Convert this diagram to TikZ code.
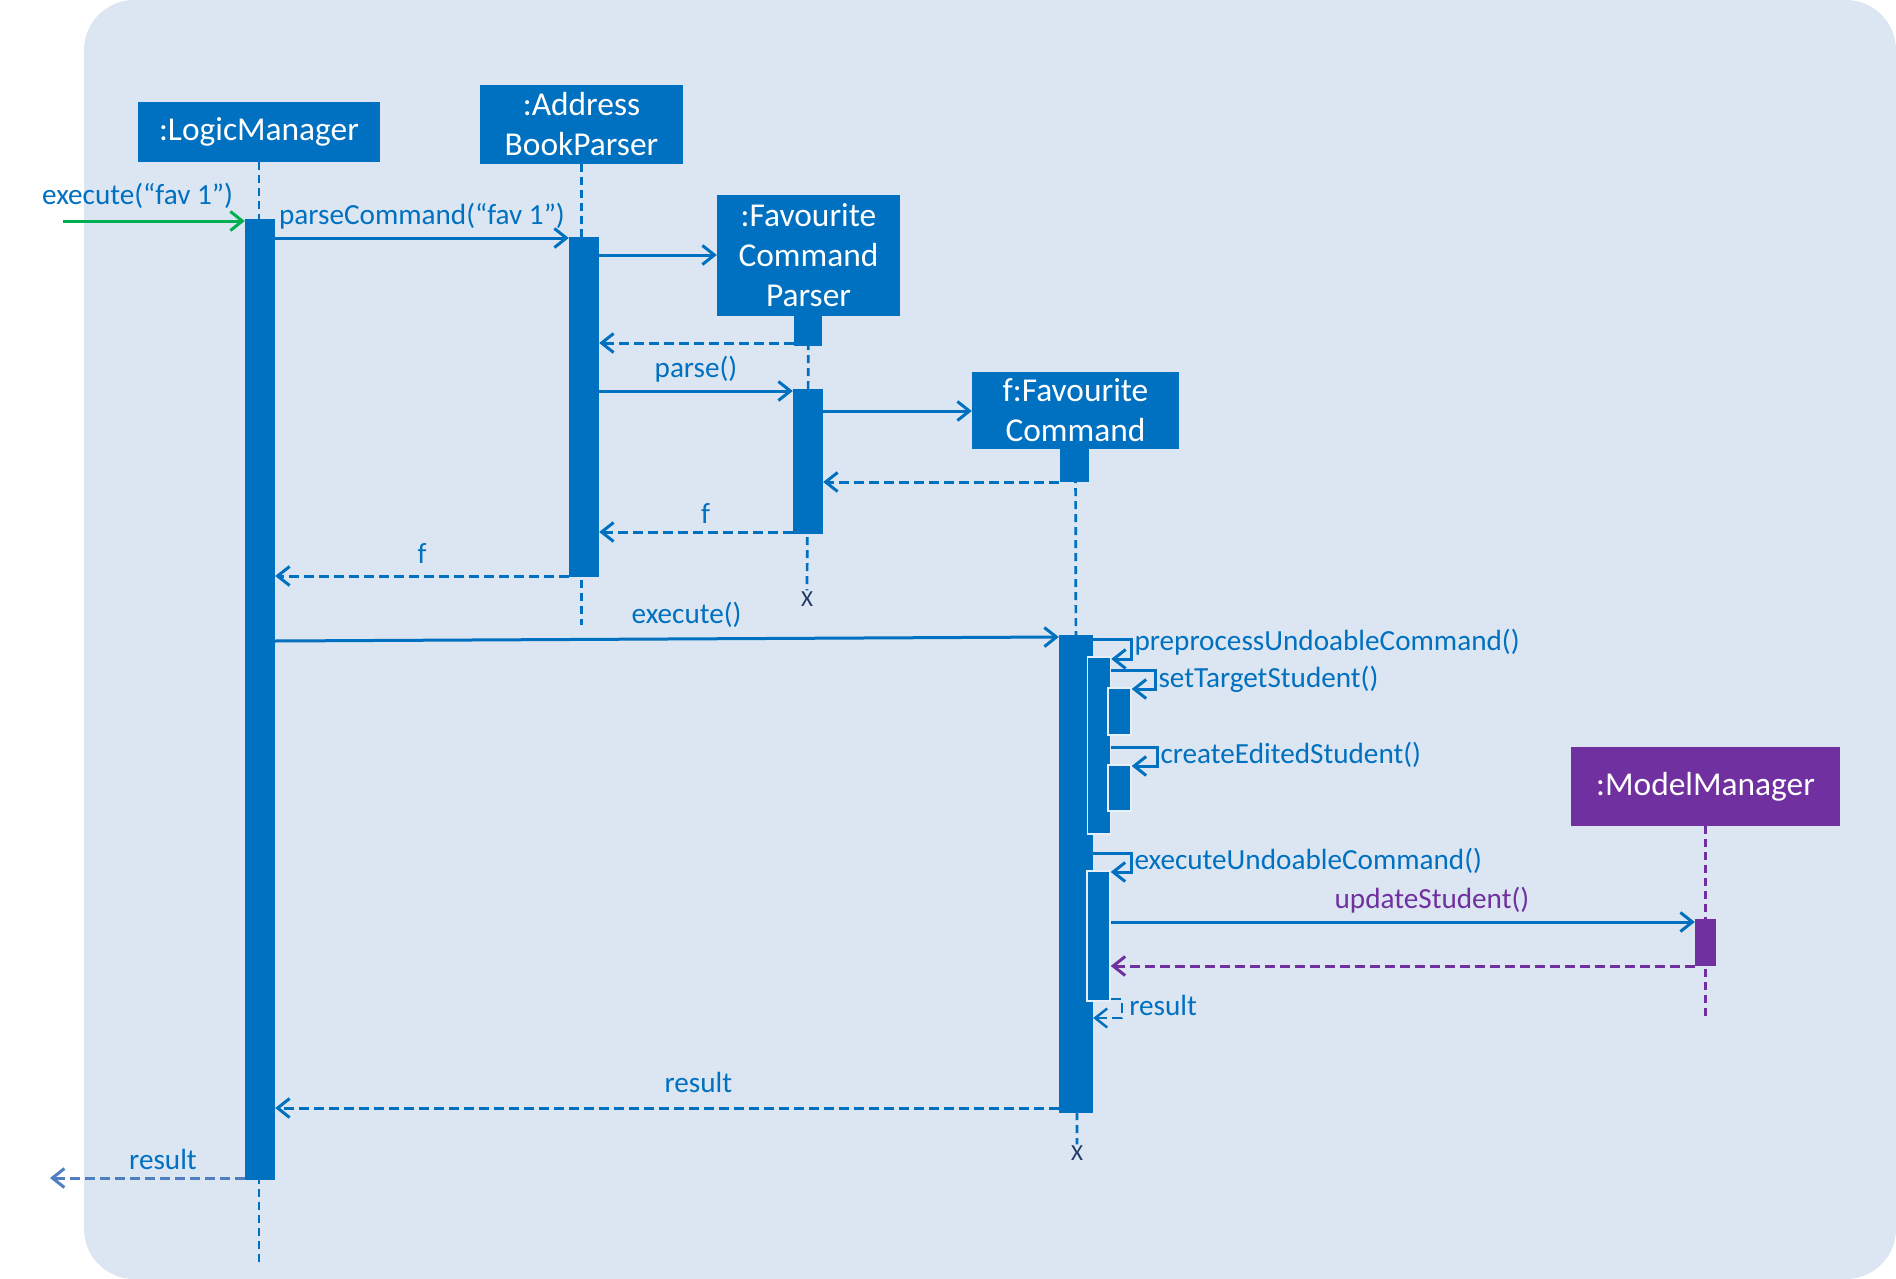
\documentclass[tikz,border=0pt]{standalone}
\usepackage{fontspec}
\setmainfont{Carlito}
\usetikzlibrary{arrows.meta,positioning}

\definecolor{seqblue}{HTML}{0070C0}
\definecolor{seqblue2}{HTML}{4F7FC0}
\definecolor{seqpurple}{HTML}{7030A0}
\definecolor{seqgreen}{HTML}{00B050}
\definecolor{seqnavy}{HTML}{1F3864}
\definecolor{bgblue}{HTML}{DCE6F2}
\definecolor{edgeblue}{HTML}{E6EEF8}

\newcommand{\lblfont}{\fontsize{29.2}{34}\selectfont}
\newcommand{\boxfont}{\fontsize{33.4}{40}\selectfont}

\begin{document}
\begin{tikzpicture}[x=1pt,y=-1pt,
  obj/.style={fill=seqblue, text=white, font=\boxfont, align=center, inner sep=0pt},
  act/.style={fill=seqblue, inner sep=0pt, minimum width=30pt},
  nest/.style={act, draw=edgeblue, line width=1.5pt, minimum width=23pt},
  life/.style={seqblue, line width=2.7pt, dash pattern=on 8pt off 5pt},
  msg/.style={seqblue, line width=3pt, -{Straight Barb[length=12pt,width=19pt]}},
  ret/.style={msg, dash pattern=on 10pt off 5pt},
  lbl/.style={font=\lblfont, text=seqblue, inner sep=3pt},
  xmark/.style={font=\fontsize{23}{26}\selectfont, text=seqnavy, inner sep=1pt}]

\useasboundingbox (0,0) rectangle (1896,1279);

% ==== Background ====
\fill[bgblue, rounded corners=50pt] (84,0) rectangle (1896,1279);

% ==== Objects ====
\node[obj, minimum width=242pt, minimum height=60pt] (lm) at (259,132) {:LogicManager};
\node[obj, minimum width=203pt, minimum height=79pt] (abp) at (581.5,124.5) {:Address\\BookParser};
\node[obj, minimum width=183pt, minimum height=121pt] (fcp) at (808.5,255.5) {:Favourite\\Command\\Parser};
\node[obj, minimum width=207pt, minimum height=77pt] (fc) at (1075.5,410.5) {f:Favourite\\Command};
\node[obj, fill=seqpurple, minimum width=269pt, minimum height=79pt] (mm) at (1705.5,786.5) {:ModelManager};

% destroy marks
\node[xmark] (fcpX) at (807,599) {X};
\node[xmark] (fcX) at (1077,1153) {X};

% ==== Lifelines ====
\draw[life] (lm.south) -- (lm.south |- 0,1265);
\draw[life] (abp.south) -- (abp.south |- 0,625);
\draw[life] (fcp.south) -- (fcpX.north);
\draw[life] (fc.south) -- (fcX.north);
\draw[life, seqpurple] (mm.south) -- (mm.south |- 0,1021);

% ==== Activations ====
\node[act, minimum height=961pt] (lmAct) at (260,699.5) {};
\node[act, minimum height=340pt] (abpAct) at (584,407) {};
\node[act, minimum width=28pt, minimum height=30pt] (fcpTop) at (808,331) {};
\node[act, minimum height=145pt] (fcpAct) at (808,461.5) {};
\node[act, minimum width=29pt, minimum height=33pt] (fcTop) at (1074,465.5) {};
\node[act, minimum width=34pt, minimum height=478pt] (fcAct) at (1076,874) {};
\node[nest, minimum height=177pt] (preAct) at (1099,745.5) {};
\node[nest, minimum height=47pt] (setAct) at (1119.5,711.5) {};
\node[nest, minimum height=46pt] (creAct) at (1119.5,788) {};
\node[nest, minimum height=130pt] (exeAct) at (1098.5,936) {};
\node[act, fill=seqpurple, minimum width=21pt, minimum height=47pt] (mmAct) at (1705.5,942.5) {};

% ==== Messages ====
\coordinate (entry) at (63,221);
\draw[msg, seqgreen] (entry) -- node[lbl, above, pos=0.41, yshift=8pt] {execute(“fav 1”)} (entry -| lmAct.west);

\draw[msg] (lmAct.east |- 0,238) -- node[lbl, above, yshift=4pt] {parseCommand(“fav 1”)} (abpAct.west |- 0,238);
\draw[msg] (abpAct.east |- 0,255) -- (fcp.west |- 0,255);
\draw[ret] (fcpTop.west |- 0,343) -- (abpAct.east |- 0,343);
\draw[msg] (abpAct.east |- 0,391) -- node[lbl, above, yshift=4pt] {parse()} (fcpAct.west |- 0,391);
\draw[msg] (fcpAct.east |- 0,411) -- (fc.west |- 0,411);
\draw[ret] (fcTop.west |- 0,482) -- (fcpAct.east |- 0,482);
\draw[ret] (fcpAct.west |- 0,532) -- node[lbl, above, pos=0.45, yshift=4pt] {f} (abpAct.east |- 0,532);
\draw[ret] (abpAct.west |- 0,576) -- node[lbl, above, yshift=8pt] {f} (lmAct.east |- 0,576);

\draw[msg] (lmAct.east |- 0,641) -- node[lbl, above, pos=0.525, yshift=7pt] {execute()} (fcAct.west |- 0,637);

% self calls
\draw[msg] (fcAct.east |- 0,639) -- (1131,639) node[lbl, right, inner sep=2pt, yshift=-3pt] {preprocessUndoableCommand()}
  -- (1131,659) -- (preAct.east |- 0,659);
\draw[msg] (preAct.east |- 0,670) -- (1155,670) node[lbl, right, inner sep=2pt, yshift=-9pt] {setTargetStudent()}
  -- (1155,689) -- (setAct.east |- 0,689);
\draw[msg] (preAct.east |- 0,747) -- (1157,747) node[lbl, right, inner sep=2pt, yshift=-8pt] {createEditedStudent()}
  -- (1157,766) -- (creAct.east |- 0,766);
\draw[msg] (fcAct.east |- 0,853) -- (1131,853) node[lbl, right, inner sep=2pt, yshift=-8pt] {executeUndoableCommand()}
  -- (1131,872) -- (exeAct.east |- 0,872);

\draw[msg] (exeAct.east |- 0,922) -- node[lbl, above, pos=0.55, yshift=4pt, text=seqpurple] {updateStudent()} (mmAct.west |- 0,922);
\draw[ret, seqpurple] (mmAct.west |- 0,966) -- (exeAct.east |- 0,966);
\draw[ret, line width=2.5pt] (exeAct.east |- 0,999) -- (1122,999) node[lbl, right, inner sep=2pt, xshift=4pt, yshift=-6pt] {result}
  -- (1122,1018) -- (fcAct.east |- 0,1018);

\draw[ret] (fcAct.west |- 0,1108) -- node[lbl, above, pos=0.46, yshift=11pt] {result} (lmAct.east |- 0,1108);

\coordinate (exit) at (50,1178);
\draw[ret, seqblue2] (lmAct.west |- 0,1178) -- node[lbl, above, pos=0.42, yshift=4pt] {result} (exit);

\end{tikzpicture}
\end{document}
